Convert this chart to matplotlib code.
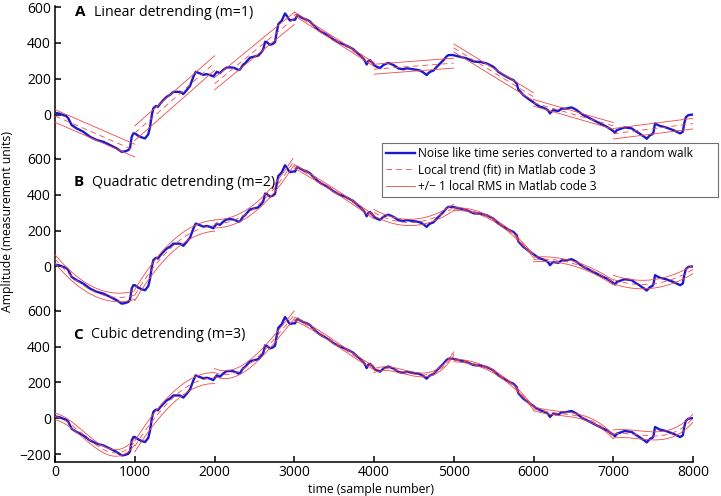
import numpy as np
import matplotlib.pyplot as plt

plt.rcParams['font.family'] = ['Open Sans', 'DejaVu Sans']
plt.rcParams['font.size'] = 8.5
plt.rcParams['lines.scale_dashes'] = False

# random walk (sample number, amplitude)
t = [0, 60, 104, 140, 167, 209, 272, 355, 439, 523,
     606, 690, 774, 836, 880, 920, 941, 962, 983, 1003,
     1045, 1090, 1129, 1170, 1191, 1215, 1233, 1266, 1290, 1317,
     1358, 1400, 1442, 1484, 1530, 1568, 1609, 1651, 1693, 1735,
     1764, 1818, 1860, 1902, 1944, 1985, 2028, 2069, 2110, 2153,
     2200, 2236, 2278, 2299, 2320, 2361, 2383, 2445, 2508, 2550,
     2592, 2612, 2634, 2654, 2696, 2730, 2759, 2780, 2800, 2843,
     2884, 2910, 2926, 2947, 2980, 3010, 3039, 3080, 3114, 3160,
     3198, 3240, 3281, 3330, 3386, 3440, 3490, 3550, 3616, 3680,
     3741, 3790, 3825, 3866, 3887, 3908, 3930, 3950, 3980, 4013,
     4045, 4076, 4118, 4150, 4180, 4210, 4243, 4275, 4306, 4340,
     4369, 4400, 4431, 4462, 4494, 4540, 4578, 4620, 4661, 4683,
     4703, 4745, 4787, 4829, 4870, 4910, 4932, 4970, 4995, 5040,
     5079, 5120, 5162, 5205, 5246, 5290, 5330, 5370, 5413, 5460,
     5497, 5530, 5559, 5610, 5664, 5710, 5747, 5789, 5810, 5840,
     5873, 5915, 5957, 6000, 6040, 6082, 6115, 6145, 6180, 6207,
     6230, 6249, 6280, 6312, 6354, 6385, 6417, 6450, 6479, 6510,
     6542, 6585, 6626, 6670, 6709, 6750, 6793, 6835, 6877, 6920,
     6960, 7000, 7023, 7044, 7075, 7106, 7140, 7169, 7200, 7232,
     7265, 7295, 7330, 7357, 7390, 7420, 7440, 7462, 7490, 7504,
     7524, 7555, 7587, 7630, 7671, 7710, 7755, 7800, 7838, 7872,
     7890, 7910, 7942, 7970, 8000]
amp = [10, 5, -3, -8, -21, -59, -77, -96, -124, -142,
       -152, -170, -189, -208, -205, -198, -185, -124, -105, -105,
       -119, -128, -133, -110, -70, 0, 35, 48, 44, 60,
       81, 99, 110, 127, 127, 127, 115, 137, 160, 211,
       239, 230, 222, 226, 221, 213, 239, 232, 250, 263,
       264, 262, 255, 249, 252, 280, 286, 318, 325, 330,
       351, 365, 407, 405, 390, 395, 405, 460, 505, 525,
       565, 550, 537, 526, 530, 530, 556, 545, 537, 530,
       520, 500, 482, 465, 452, 438, 420, 405, 393, 380,
       365, 345, 332, 314, 300, 280, 300, 304, 290, 272,
       265, 260, 277, 284, 289, 283, 277, 268, 258, 255,
       253, 258, 258, 255, 253, 250, 246, 235, 221, 232,
       239, 246, 267, 286, 304, 325, 332, 333, 332, 327,
       323, 318, 314, 305, 297, 295, 295, 290, 286, 275,
       267, 253, 239, 225, 211, 200, 193, 174, 140, 125,
       109, 95, 81, 68, 55, 44, 40, 34, 25, 7,
       18, 25, 22, 20, 34, 33, 34, 38, 40, 33,
       25, 10, -3, -12, -21, -30, -40, -50, -59, -68,
       -80, -92, -101, -87, -82, -77, -72, -73, -75, -77,
       -88, -96, -106, -115, -124, -135, -125, -115, -110, -100,
       -49, -57, -64, -68, -73, -80, -87, -97, -105, -96,
       -50, -15, -3, -1, 0]

orders = [1, 2, 3]
letters = ['A', 'B', 'C']
titles = ['Linear detrending (m=1)', 'Quadratic detrending (m=2)',
          'Cubic detrending (m=3)']
seg_edges = [0, 1000, 2000, 3000, 4000, 5000, 6000, 7000, 8000]

t = np.array(t, dtype=float)
amp = np.array(amp, dtype=float)

W, H = 721, 496
fig = plt.figure(figsize=(W / 100, H / 100), dpi=100)

blue = '#1a1ad2'
red = '#f04848'
ax_left, ax_w = 55, 638
ax_h = 151.8
tops = [6.3, 158.1, 309.9]
title_y = [12.5, 182.3, 335]
title_x = [(75, 94), (74, 92), (73, 91)]

for i, m in enumerate(orders):
    top = tops[i]
    ax = fig.add_axes([ax_left / W, 1 - (top + ax_h) / H, ax_w / W, ax_h / H])
    ax.patch.set_alpha(0)
    ax.set_xlim(0, 8000)
    ax.set_ylim(-243, 605)

    ax.plot(t, amp, color=blue, lw=1.7, zorder=3,
            label='Noise like time series converted to a random walk')
    for a, b in zip(seg_edges[:-1], seg_edges[1:]):
        sel = (t >= a) & (t <= b)
        p = np.polyfit(t[sel], amp[sel], m)
        rms = np.sqrt(np.mean((amp[sel] - np.polyval(p, t[sel])) ** 2))
        xs = np.linspace(a, b, 200)
        fit = np.polyval(p, xs)
        ax.plot(xs, fit, color=red, lw=0.6, dashes=(4, 3), zorder=4,
                label='Local trend (fit) in Matlab code 3' if a == 0 else None)
        ax.plot(xs, fit + rms, color=red, lw=0.6, zorder=4,
                label='+/\u2212 1 local RMS in Matlab code 3' if a == 0 else None)
        ax.plot(xs, fit - rms, color=red, lw=0.6, zorder=4)

    for s in ['top', 'right']:
        ax.spines[s].set_visible(False)
    ax.spines['left'].set_linewidth(1.1)
    ax.tick_params(direction='in', length=4.5, width=1.1, labelsize=10, pad=3)
    if i < 2:
        ax.spines['bottom'].set_visible(False)
        ax.set_xticks([])
        ax.set_yticks([0, 200, 400, 600])
    else:
        ax.spines['bottom'].set_linewidth(1.1)
        ax.set_xticks(range(0, 8001, 1000))
        ax.set_yticks([-200, 0, 200, 400, 600])
        ax.tick_params(axis='x', pad=2.5)

    lx, tx = title_x[i]
    fig.text(lx / W, 1 - title_y[i] / H, letters[i], fontsize=11,
             fontweight='bold', va='center', ha='left')
    fig.text(tx / W, 1 - title_y[i] / H, titles[i], fontsize=10.2,
             va='center', ha='left')

    if i == 0:
        handles, labels = ax.get_legend_handles_labels()

leg = fig.legend(handles, labels, loc='upper left', mode='expand',
                 bbox_to_anchor=(382 / W, 1 - 199 / H, 336 / W, 56 / H),
                 fontsize=8.6, frameon=True, fancybox=False, framealpha=1,
                 edgecolor='#707070', handlelength=2.4, handletextpad=0.3,
                 borderpad=0.35, labelspacing=0.28, borderaxespad=0)
leg.get_frame().set_linewidth(0.8)

fig.text(8 / W, 1 - 221 / H, 'Amplitude (measurement units)', rotation=90,
         va='center', ha='center', fontsize=8.8)
fig.text(371 / W, 1 - 489 / H, 'time (sample number)', va='center',
         ha='center', fontsize=8.8)

fig.savefig('out.png', dpi=100)
